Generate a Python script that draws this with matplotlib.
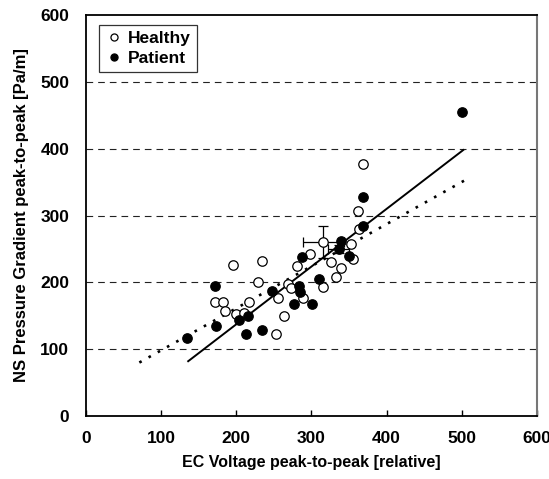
import matplotlib
matplotlib.use('Agg')
import matplotlib.pyplot as plt

plt.rcParams['font.family'] = ['Liberation Sans', 'DejaVu Sans']
plt.rcParams['font.weight'] = 'bold'

# Healthy subjects (open circles)
healthy_x = [195, 234, 229, 172, 182, 185, 217, 200, 210, 255, 253, 368, 362, 363,
             353, 355, 298, 326, 281, 339, 333, 269, 273, 315, 289, 264]
healthy_y = [226, 232, 201, 171, 171, 157, 171, 152, 154, 176, 122, 377, 307, 280,
             258, 235, 242, 231, 224, 221, 208, 197, 191, 193, 176, 150]

# Patients (filled circles)
patient_x = [172, 173, 135, 204, 216, 213, 234, 248, 368, 368, 339, 350, 287, 310,
             284, 285, 277, 301, 500]
patient_y = [195, 135, 116, 143, 150, 123, 128, 187, 328, 285, 262, 240, 238, 205,
             194, 186, 168, 168, 455]

# group means with error bars
healthy_mean = (316, 260)
healthy_err = (27, 24)
patient_mean = (336, 250)
patient_err = (14, 6)

# regression lines (end points)
solid_x = [136, 502]
solid_y = [82, 398]
dotted_x = [71, 503]
dotted_y = [80, 352]

fig = plt.figure(figsize=(5.49, 4.79), dpi=100)
ax = fig.add_axes([0.1566, 0.1315, 0.8214, 0.8372])

for yy in [100, 200, 300, 400, 500]:
    ax.axhline(yy, color='#222222', lw=0.8, ls=(0, (6, 4.5)), zorder=0)

ax.plot(solid_x, solid_y, color='black', lw=1.4, zorder=1)
ax.plot(dotted_x, dotted_y, color='black', lw=1.9, ls=(0, (1, 3.0)), zorder=1)

ax.errorbar(healthy_mean[0], healthy_mean[1], xerr=healthy_err[0], yerr=healthy_err[1],
            fmt='none', ecolor='black', elinewidth=0.9, capsize=3.5, capthick=0.9, zorder=2)
ax.errorbar(patient_mean[0], patient_mean[1], xerr=patient_err[0], yerr=patient_err[1],
            fmt='none', ecolor='black', elinewidth=0.9, capsize=3.5, capthick=0.9, zorder=2)

ax.plot(healthy_x + [healthy_mean[0]], healthy_y + [healthy_mean[1]], 'o', ms=6.8,
        mfc='white', mec='black', mew=0.9, label='Healthy', zorder=3)
ax.plot(patient_x + [patient_mean[0]], patient_y + [patient_mean[1]], 'o', ms=6.8,
        mfc='black', mec='black', mew=0.9, label='Patient', zorder=4)

ax.set_xlim(0, 600)
ax.set_ylim(0, 600)
ax.set_xticks(range(0, 601, 100))
ax.set_yticks(range(0, 601, 100))
ax.tick_params(axis='x', direction='in', length=4, width=1, pad=11, labelsize=12.5)
ax.tick_params(axis='y', length=0, pad=12, labelsize=12.5)
for lab in ax.get_xticklabels() + ax.get_yticklabels():
    lab.set_fontweight('bold')

for side in ['left', 'bottom', 'top']:
    ax.spines[side].set_linewidth(1.3)
    ax.spines[side].set_color('black')
ax.spines['right'].set_linewidth(1.5)
ax.spines['right'].set_color('#777777')

ax.set_xlabel('EC Voltage peak-to-peak [relative]', fontsize=11.5, fontweight='bold', labelpad=6)
ax.set_ylabel('NS Pressure Gradient peak-to-peak [Pa/m]', fontsize=12, fontweight='bold', labelpad=8)

leg = ax.legend(loc='upper left', bbox_to_anchor=(0.029, 0.975), borderaxespad=0,
                frameon=True, fancybox=False, edgecolor='black', fontsize=12.5,
                markerscale=0.75, handlelength=1.0, handletextpad=0.3, borderpad=0.35,
                labelspacing=0.25)
leg.get_frame().set_linewidth(0.9)
for t in leg.get_texts():
    t.set_fontweight('bold')

fig.savefig('out.png', dpi=100)
